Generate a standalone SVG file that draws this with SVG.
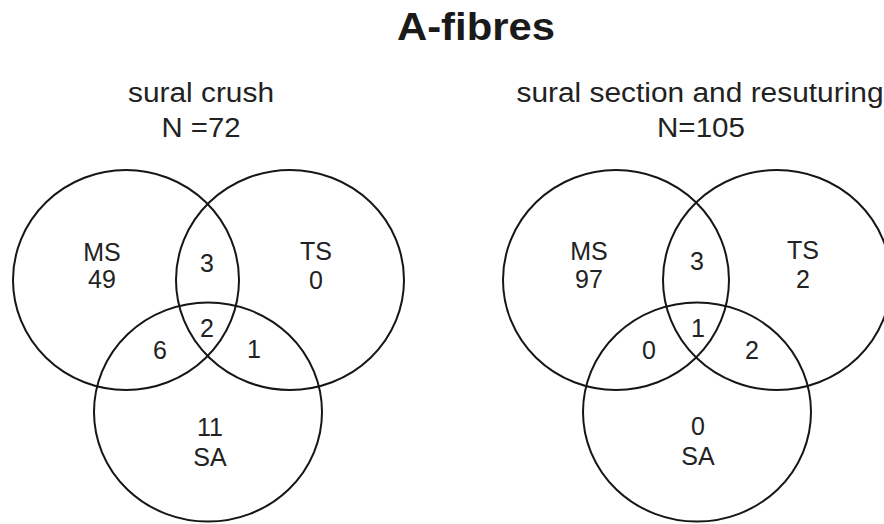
<svg xmlns="http://www.w3.org/2000/svg" width="884" height="524" viewBox="0 0 884 524">
  <style>
    .set { fill: none; stroke: #161616; stroke-width: 2; }
    .lbl { font-family: "Liberation Sans", Arial, sans-serif; font-size: 25px; fill: #222; text-anchor: middle; }
    .hdr { font-family: "Liberation Sans", Arial, sans-serif; font-size: 27px; fill: #222; text-anchor: middle; }
    .ttl { font-family: "Liberation Sans", Arial, sans-serif; font-size: 39px; font-weight: bold; fill: #1a1a1a; text-anchor: middle; }
  </style>
  <rect width="884" height="524" fill="#ffffff"/>

  <g id="title">
    <text class="ttl" x="476" y="40" textLength="158" lengthAdjust="spacingAndGlyphs">A-fibres</text>
  </g>

  <g id="crush">
    <g id="crush-header">
      <text class="hdr" x="201" y="102" textLength="146" lengthAdjust="spacingAndGlyphs">sural crush</text>
      <text class="hdr" x="201" y="137" textLength="79" lengthAdjust="spacingAndGlyphs">N =72</text>
    </g>
    <g id="crush-MS">
      <ellipse class="set" cx="126" cy="280" rx="113" ry="110"/>
      <text class="lbl" x="102" y="261">MS</text>
      <text class="lbl" x="102" y="288">49</text>
    </g>
    <g id="crush-TS">
      <ellipse class="set" cx="290" cy="280" rx="114" ry="110"/>
      <text class="lbl" x="316" y="260">TS</text>
      <text class="lbl" x="316" y="289">0</text>
    </g>
    <g id="crush-SA">
      <ellipse class="set" cx="208" cy="412" rx="114" ry="109.5"/>
      <text class="lbl" x="210" y="436">11</text>
      <text class="lbl" x="210" y="466">SA</text>
    </g>
    <g id="crush-overlaps">
      <text class="lbl" x="207" y="272">3</text>
      <text class="lbl" x="207" y="337">2</text>
      <text class="lbl" x="160" y="359">6</text>
      <text class="lbl" x="254" y="358">1</text>
    </g>
  </g>

  <g id="section">
    <g id="section-header">
      <text class="hdr" x="700" y="102" textLength="367" lengthAdjust="spacingAndGlyphs">sural section and resuturing</text>
      <text class="hdr" x="701" y="137" textLength="88" lengthAdjust="spacingAndGlyphs">N=105</text>
    </g>
    <g id="section-MS">
      <ellipse class="set" cx="616" cy="280" rx="113" ry="110"/>
      <text class="lbl" x="589" y="260">MS</text>
      <text class="lbl" x="589" y="288">97</text>
    </g>
    <g id="section-TS">
      <ellipse class="set" cx="777" cy="280" rx="114" ry="110"/>
      <text class="lbl" x="803" y="259">TS</text>
      <text class="lbl" x="803" y="288">2</text>
    </g>
    <g id="section-SA">
      <ellipse class="set" cx="697" cy="412" rx="114" ry="109.5"/>
      <text class="lbl" x="698" y="435">0</text>
      <text class="lbl" x="698" y="465">SA</text>
    </g>
    <g id="section-overlaps">
      <text class="lbl" x="697" y="270">3</text>
      <text class="lbl" x="698" y="337">1</text>
      <text class="lbl" x="649" y="359">0</text>
      <text class="lbl" x="752" y="359">2</text>
    </g>
  </g>

  <g id="connectors"/>
</svg>
